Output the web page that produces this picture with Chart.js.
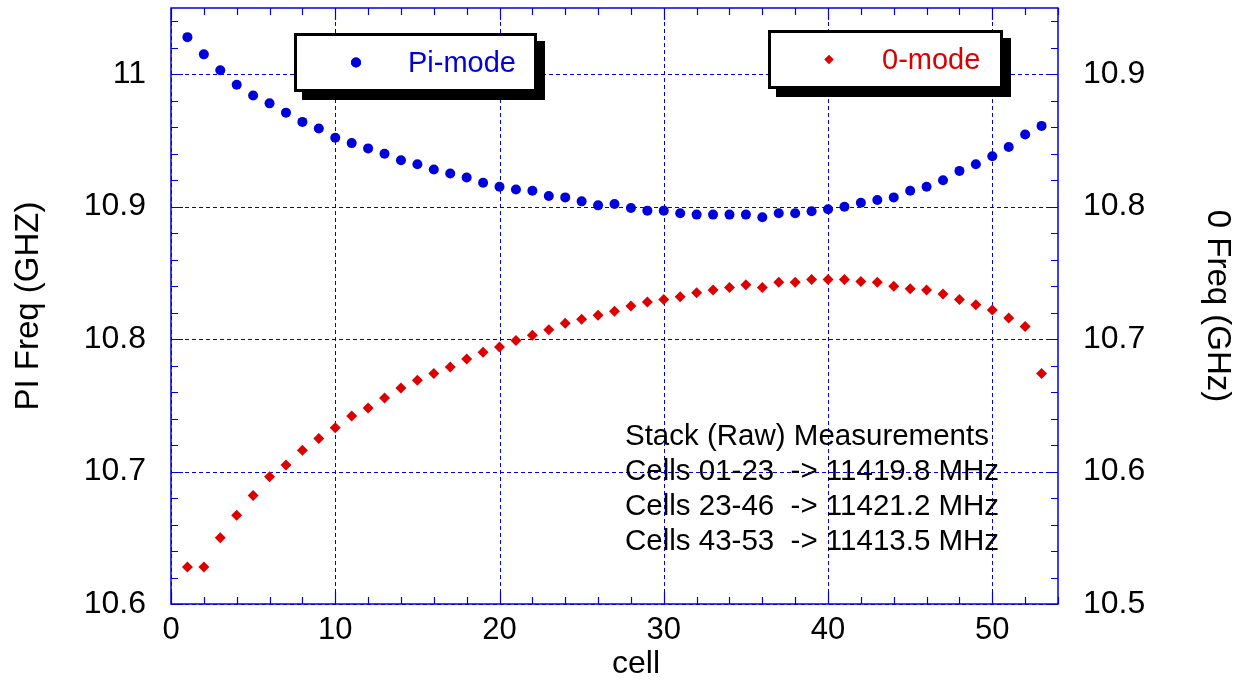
<!DOCTYPE html>
<html>
<head>
<meta charset="utf-8">
<script src="https://cdn.jsdelivr.net/npm/chart.js@4"></script>
<style>
  body { margin: 0; background: #fff; }
  #wrap { width: 1251px; height: 688px; }
</style>
</head>
<body>
<div id="wrap"><canvas id="chart" width="1251" height="688"></canvas></div>
<script>
// data
var cells = [1, 2, 3, 4, 5, 6, 7, 8, 9, 10, 11, 12, 13, 14, 15, 16, 17, 18, 19, 20,
  21, 22, 23, 24, 25, 26, 27, 28, 29, 30, 31, 32, 33, 34, 35, 36, 37, 38, 39, 40,
  41, 42, 43, 44, 45, 46, 47, 48, 49, 50, 51, 52, 53];
var piMode = [11.028, 11.015, 11.003, 10.992, 10.984, 10.978, 10.971, 10.964, 10.959, 10.952,
  10.948, 10.944, 10.940, 10.935, 10.932, 10.928, 10.925, 10.922, 10.918, 10.915,
  10.913, 10.912, 10.908, 10.907, 10.904, 10.901, 10.902, 10.899, 10.897, 10.897,
  10.895, 10.894, 10.894, 10.894, 10.894, 10.892, 10.895, 10.895, 10.8965, 10.898,
  10.900, 10.903, 10.905, 10.907, 10.912, 10.915, 10.920, 10.927, 10.932, 10.938,
  10.945, 10.9545, 10.961];
var zeroMode = [10.528, 10.528, 10.550, 10.567, 10.582, 10.596, 10.605, 10.616, 10.625, 10.633,
  10.642, 10.648, 10.6555, 10.663, 10.669, 10.674, 10.679, 10.685, 10.690, 10.694,
  10.699, 10.703, 10.707, 10.712, 10.715, 10.718, 10.721, 10.725, 10.728, 10.730,
  10.732, 10.735, 10.737, 10.739, 10.741, 10.739, 10.743, 10.743, 10.745, 10.745,
  10.745, 10.7435, 10.743, 10.740, 10.738, 10.737, 10.734, 10.730, 10.726, 10.722,
  10.716, 10.7096, 10.674];
var xTicks = [0, 10, 20, 30, 40, 50];
var piTicks = [10.6, 10.7, 10.8, 10.9, 11];
var zeroTicks = [10.5, 10.6, 10.7, 10.8, 10.9];
var noteLines = ["Stack (Raw) Measurements",
  "Cells 01-23  -> 11419.8 MHz",
  "Cells 23-46  -> 11421.2 MHz",
  "Cells 43-53  -> 11413.5 MHz"];

var BLUE = "#0000dc";
var RED = "#dc0000";
var FONT = "'Liberation Sans', Arial, sans-serif";

function pts(xs, ys) {
  return xs.map(function (x, i) { return { x: x, y: ys[i] }; });
}

// no extra room for edge labels, the plot box is fixed
function noPad(s) {
  s.paddingTop = 0; s.paddingBottom = 0; s.paddingLeft = 0; s.paddingRight = 0;
}

// dashed grid, frame, minor ticks, legend boxes and the text block
var extras = {
  id: "extras",
  beforeDatasetsDraw: function (chart) {
    var ctx = chart.ctx, a = chart.chartArea;
    var sx = chart.scales.x, sy = chart.scales.y;
    ctx.save();
    ctx.strokeStyle = BLUE;
    ctx.lineWidth = 1;
    ctx.setLineDash([4, 3]);
    ctx.beginPath();
    xTicks.forEach(function (v) {
      var px = Math.round(sx.getPixelForValue(v)) + 0.5;
      ctx.moveTo(px, a.top); ctx.lineTo(px, a.bottom);
    });
    piTicks.forEach(function (v) {
      var py = Math.round(sy.getPixelForValue(v)) + 0.5;
      ctx.moveTo(a.left, py); ctx.lineTo(a.right, py);
    });
    ctx.stroke();
    ctx.setLineDash([]);
    ctx.lineWidth = 1.5;
    ctx.strokeRect(a.left, a.top, a.right - a.left, a.bottom - a.top);
    ctx.lineWidth = 1.2;
    ctx.beginPath();
    for (var v = 0; v <= 54.001; v += 2) {
      var px = Math.round(sx.getPixelForValue(v)) + 0.5;
      var len = (Math.round(v) % 10 === 0) ? 12 : 7;
      ctx.moveTo(px, a.bottom); ctx.lineTo(px, a.bottom - len);
      ctx.moveTo(px, a.top); ctx.lineTo(px, a.top + len);
    }
    for (var k = 0; k <= 22; k++) {
      var val = 10.6 + k * 0.02;
      var py = Math.round(sy.getPixelForValue(val)) + 0.5;
      var l2 = (k % 5 === 0) ? 12 : 7;
      ctx.moveTo(a.left, py); ctx.lineTo(a.left + l2, py);
      ctx.moveTo(a.right, py); ctx.lineTo(a.right - l2, py);
    }
    ctx.stroke();
    ctx.restore();
  },
  afterDatasetsDraw: function (chart) {
    var ctx = chart.ctx;
    var ds = chart.data.datasets;
    var boxes = [
      { x: 294, y: 33, w: 243, h: 59, mx: 356, tx: 408, r: 5 },
      { x: 768, y: 30, w: 235, h: 59, mx: 829, tx: 882, r: 4.5 }
    ];
    ctx.save();
    boxes.forEach(function (b, i) {
      ctx.fillStyle = "#000";
      ctx.fillRect(b.x + 8, b.y + 8, b.w, b.h);
      ctx.fillStyle = "#fff";
      ctx.fillRect(b.x, b.y, b.w, b.h);
      ctx.lineWidth = 3;
      ctx.strokeStyle = "#000";
      ctx.strokeRect(b.x + 1.5, b.y + 1.5, b.w - 3, b.h - 3);
      var cy = b.y + b.h / 2;
      ctx.fillStyle = ds[i].backgroundColor;
      Chart.helpers.drawPoint(ctx, {
        pointStyle: ds[i].pointStyle, radius: b.r, rotation: 0, borderWidth: 0
      }, b.mx, cy);
      ctx.fill();
      ctx.font = "29px " + FONT;
      ctx.textBaseline = "middle";
      ctx.textAlign = "left";
      ctx.fillText(ds[i].label, b.tx, cy + 1);
    });
    ctx.fillStyle = "#000";
    ctx.font = "29.5px " + FONT;
    ctx.textBaseline = "middle";
    noteLines.forEach(function (t, i) {
      ctx.fillText(t, 625, 437 + i * 35);
    });
    // x axis title sits a little right of centre in the original
    ctx.font = "32px " + FONT;
    ctx.textAlign = "center";
    ctx.fillText("cell", 636, 664);
    ctx.restore();
  }
};

var chart = new Chart(document.getElementById("chart"), {
  type: "scatter",
  data: {
    datasets: [
      {
        label: "Pi-mode",
        data: pts(cells, piMode),
        yAxisID: "y",
        pointStyle: "circle",
        pointRadius: 5,
        backgroundColor: BLUE,
        borderColor: BLUE,
        borderWidth: 0
      },
      {
        label: "0-mode",
        data: pts(cells, zeroMode),
        yAxisID: "y2",
        pointStyle: "rectRot",
        pointRadius: 5.5,
        backgroundColor: RED,
        borderColor: RED,
        borderWidth: 0
      }
    ]
  },
  options: {
    responsive: false,
    devicePixelRatio: 1,
    animation: false,
    layout: { padding: { top: 8, left: 0, right: 0, bottom: 0 } },
    plugins: { legend: { display: false }, tooltip: { enabled: false } },
    scales: {
      x: {
        type: "linear",
        position: "bottom",
        min: 0,
        max: 54,
        afterBuildTicks: function (s) { s.ticks = xTicks.map(function (v) { return { value: v }; }); },
        afterFit: function (s) { s.height = 84; noPad(s); },
        ticks: { color: "#000", font: { family: FONT, size: 31 }, padding: 8, maxRotation: 0 },
        grid: { drawOnChartArea: false, drawTicks: false },
        border: { display: false },
        title: { display: false }
      },
      y: {
        position: "left",
        min: 10.6,
        max: 11.05,
        afterBuildTicks: function (s) { s.ticks = piTicks.map(function (v) { return { value: v }; }); },
        afterFit: function (s) { s.width = 171; noPad(s); },
        ticks: { color: "#000", font: { family: FONT, size: 32 }, padding: 25, callback: function (v) { return String(v); } },
        grid: { drawOnChartArea: false, drawTicks: false },
        border: { display: false },
        title: { display: true, text: "PI Freq (GHZ)", color: "#000", font: { family: FONT, size: 33 }, padding: { top: 9, bottom: 0 } }
      },
      y2: {
        position: "right",
        min: 10.5,
        max: 10.95,
        afterBuildTicks: function (s) { s.ticks = zeroTicks.map(function (v) { return { value: v }; }); },
        afterFit: function (s) { s.width = 193; noPad(s); },
        ticks: { color: "#000", font: { family: FONT, size: 32 }, padding: 25, callback: function (v) { return String(v); } },
        grid: { drawOnChartArea: false, drawTicks: false },
        border: { display: false },
        title: { display: true, text: "0 Freq (GHz)", color: "#000", font: { family: FONT, size: 33 }, padding: { top: 14, bottom: 0 } }
      }
    }
  },
  plugins: [extras]
});
</script>
</body>
</html>
